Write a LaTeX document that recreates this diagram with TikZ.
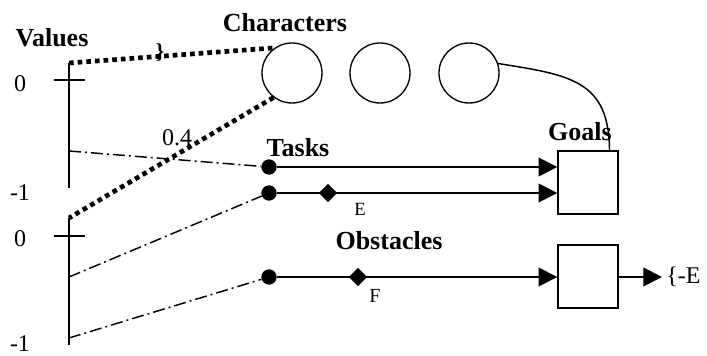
\documentclass[tikz,border=0pt]{standalone}
\usepackage{fontspec}
\setmainfont{Liberation Serif}
\usetikzlibrary{arrows.meta,shapes.geometric,calc}
\begin{document}
\begin{tikzpicture}[x=0.75pt,y=-0.75pt,
  title/.style={font=\fontsize{19.5}{20}\selectfont\bfseries,inner sep=0},
  num/.style={font=\fontsize{18}{18}\selectfont,inner sep=0},
  small/.style={font=\fontsize{14}{14}\selectfont,inner sep=0},
  charc/.style={circle,draw,line width=1pt,minimum size=45pt,inner sep=0},
  goalbox/.style={rectangle,draw,line width=1.1pt,minimum width=45pt,minimum height=47pt,inner sep=0},
  dotn/.style={circle,fill,minimum size=11.5pt,inner sep=0},
  dia/.style={diamond,fill,minimum width=14pt,minimum height=14pt,aspect=1,inner sep=0},
  axisline/.style={line width=1.3pt},
  thickdot/.style={line width=3.5pt,dash pattern=on 3.5pt off 3pt},
  dashdot/.style={line width=1.1pt,dash pattern=on 9pt off 3pt on 1.5pt off 3pt},
  flow/.style={line width=1.4pt,-{Triangle[length=14pt,width=14pt]}},
]
\useasboundingbox (0,0) rectangle (707,356);
% titles
\node[title] (values) at (52,38) {Values};
\node[title] (chars) at (285,23) {Characters};
\node[title] (tasks) at (298,148) {Tasks};
\node[title] (goalst) at (580,132) {Goals};
\node[title] (obst) at (389,241) {Obstacles};
\node[font=\fontsize{16}{16}\selectfont\bfseries,inner sep=0] (sq) at (160,53) {\}};
% axis labels
\node[num] (z1) at (20,84) {0};
\node[num] (m1) at (20,193) {-1};
\node[num] (z2) at (20,239) {0};
\node[num] (m2) at (20,344) {-1};
\node[num] (v04) at (177,138) {0.4};
% axes
\coordinate (a1t) at (69,63);
\coordinate (a1b) at (69,188);
\coordinate (a2t) at (69,218);
\coordinate (a2b) at (69,345);
\coordinate (t1l) at (54,80);
\coordinate (t1r) at (85,80);
\coordinate (t2l) at (54,236);
\coordinate (t2r) at (85,236);
\draw[axisline] (a1t) -- (a1b);
\draw[axisline] (a2t) -- (a2b);
\draw[axisline] (t1l) -- (t1r);
\draw[axisline] (t2l) -- (t2r);
\coordinate (p1) at (69,151);
\coordinate (p2) at (69,277);
\coordinate (p3) at (69,338);
% characters
\node[charc] (c1) at (292,73) {};
\node[charc] (c2) at (380,73) {};
\node[charc] (c3) at (469,73) {};
% boxes
\node[goalbox] (goals) at (588,182.5) {};
\node[goalbox] (obox) at (588,276.5) {};
% dots and diamonds
\node[dotn] (d1) at (269,167) {};
\node[dotn] (d2) at (269,193) {};
\node[dotn] (d3) at (269,277) {};
\node[dia] (e1) at (328,193) {};
\node[dia] (f1) at (358,277) {};
\node[small] (el) at (360,209) {E};
\node[small,font=\fontsize{15}{15}\selectfont] (fl) at (375,296) {F};
% thick dotted lines
\draw[thickdot] (a1t) -- (c1.125);
\draw[thickdot] (c1.233) -- (a2t);
% dash-dot lines
\draw[dashdot] (p1) -- (d1);
\draw[dashdot] (p2) -- (d2);
\draw[dashdot] (p3) -- (d3);
% flows
\draw[flow] (d1) -- (d1 -| goals.west);
\draw[flow] (d2) -- (d2 -| goals.west);
\draw[flow] (d3) -- (d3 -| obox.west);
\coordinate (gtop) at ($(goals.north east)!0.15!(goals.north west)$);
\draw[line width=1.1pt] (c3.18) .. controls (570,75) and (609,80) .. (gtop);
\coordinate (outend) at (662,277);
\draw[flow] (obox.east |- d3) -- (outend);
\node[num,anchor=west] (res) at (666,277) {\{-E};
\end{tikzpicture}
\end{document}
